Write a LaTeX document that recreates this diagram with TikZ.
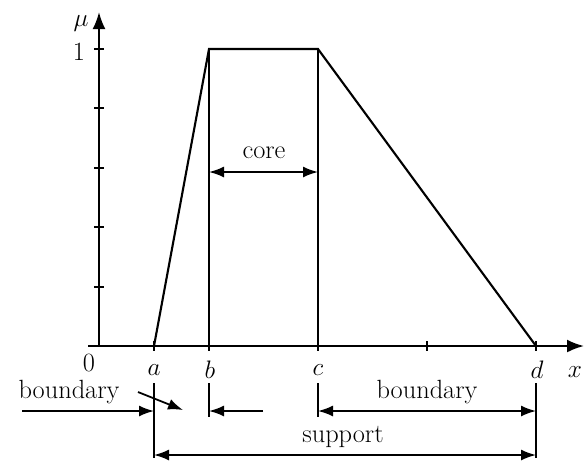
\documentclass[tikz,border=0pt]{standalone}
\usepackage{tikz}
\usetikzlibrary{arrows.meta, calc}
\begin{document}
\begin{tikzpicture}[x=0.02cm, y=-0.02cm,
  axis/.style={line width=1.2pt, -{Latex[length=3.4mm, width=2.6mm]}},
  edge/.style={line width=1.2pt},
  tick/.style={line width=1pt},
  dimboth/.style={line width=1pt, {Latex[length=3mm, width=2.2mm]}-{Latex[length=3mm, width=2.2mm]}},
  dimone/.style={line width=1pt, -{Latex[length=3mm, width=2.2mm]}},
  lbl/.style={font=\fontsize{15}{18}\selectfont, inner sep=0pt},
]
\useasboundingbox (0,0) rectangle (584,461);
% points
\coordinate (o) at (99,346);
\coordinate (ytop) at (99,12);
\coordinate (xl) at (88,346);
\coordinate (xr) at (584,346);
\coordinate (a) at (154,346);
\coordinate (b) at (209,346);
\coordinate (c) at (318,346);
\coordinate (d) at (536,346);
\coordinate (bt) at (209,49);
\coordinate (ct) at (318,49);
% axes
\draw[axis] (o) -- (ytop);
\draw[axis] (xl) -- (xr);
\foreach \yy in {49,108,168,227,287}
  \draw[tick] (94,\yy) -- (104,\yy);
\foreach \xx in {154,209,318,427,536}
  \draw[tick] (\xx,341) -- (\xx,351);
% trapezoid
\draw[edge] (a) -- (bt) -- (ct) -- (d);
\draw[edge] (bt) -- (b);
\draw[edge] (ct) -- (c);
% labels
\node[lbl] (mu) at (81,24) {$\mu$};
\node[lbl] (one) at (79,52) {1};
\node[lbl] (zero) at (89,363) {0};
\node[lbl] (la) at (154,370) {$a$};
\node[lbl] (lb) at (210,370) {$b$};
\node[lbl] (lc) at (318,370) {$c$};
\node[lbl] (ld) at (537,370) {$d$};
\node[lbl] (lx) at (575,372) {$x$};
% core
\coordinate (core1) at (209,172);
\coordinate (core2) at (318,172);
\draw[dimboth] (core1) -- (core2);
\node[lbl] (core) at (264,153) {core};
% extension lines
\coordinate (a1) at (154,383);
\coordinate (a2) at (154,458);
\coordinate (b1) at (209,383);
\coordinate (b2) at (209,417);
\coordinate (c1) at (318,383);
\coordinate (c2) at (318,417);
\coordinate (d1) at (536,383);
\coordinate (d2) at (536,458);
\draw[tick] (a1) -- (a2);
\draw[tick] (b1) -- (b2);
\draw[tick] (c1) -- (c2);
\draw[tick] (d1) -- (d2);
% left boundary
\node[lbl] (lbnd) at (69,392) {boundary};
\coordinate (lfree) at (22,411);
\coordinate (la1) at (154,411);
\draw[dimone] (lfree) -- (la1);
\coordinate (sl1) at (138,392);
\coordinate (sl2) at (183,410);
\draw[dimone] (sl1) -- (sl2);
\coordinate (rfree) at (263,411);
\coordinate (lb1) at (209,411);
\draw[dimone] (rfree) -- (lb1);
% right boundary
\node[lbl] (rbnd) at (427,392) {boundary};
\coordinate (rc1) at (318,411);
\coordinate (rd1) at (536,411);
\draw[dimboth] (rc1) -- (rd1);
% support
\node[lbl] (supp) at (343,437) {support};
\coordinate (sa) at (154,455);
\coordinate (sd) at (536,455);
\draw[dimboth] (sa) -- (sd);
\end{tikzpicture}
\end{document}
